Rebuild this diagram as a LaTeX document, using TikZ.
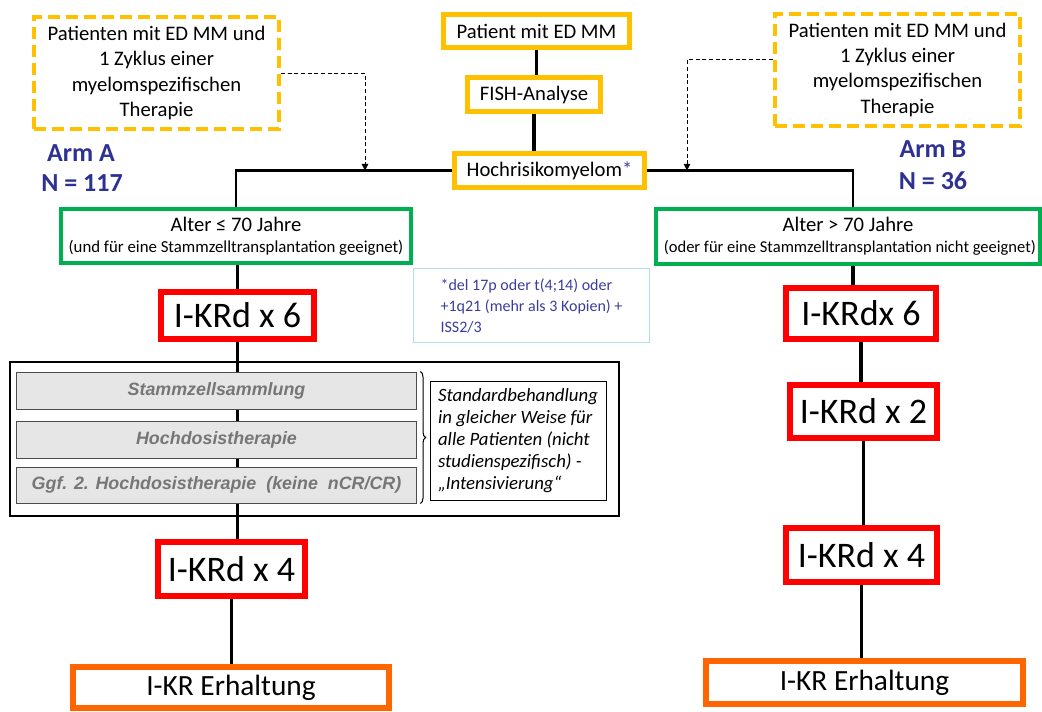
\documentclass[tikz,border=0pt]{standalone}
\usepackage{fontspec}
\setmainfont{Carlito}
\newfontfamily\arialfont{Liberation Sans}
\usetikzlibrary{arrows.meta,backgrounds,decorations.pathreplacing}

\definecolor{gelb}{HTML}{FFC000}
\definecolor{gruen}{HTML}{00B050}
\definecolor{rot}{HTML}{FF0000}
\definecolor{erhalt}{HTML}{FF6600}
\definecolor{armblau}{HTML}{2E3192}
\definecolor{notizblau}{HTML}{3C3C9E}
\definecolor{notizrand}{HTML}{B7DDE8}
\definecolor{grau}{HTML}{E6E6E6}
\definecolor{grautext}{HTML}{767676}

\newcommand{\kleinschrift}[1][12.6]{\fontsize{#1}{14}\selectfont}

\tikzset{
  box/.style={draw, inner sep=0pt, align=center},
  gelbbox/.style={box, draw=gelb, line width=3.75pt, font=\fontsize{15.5}{19}\selectfont},
  gestrichelt/.style={box, draw=gelb, line width=3pt, dash pattern=on 9pt off 4.5pt,
    minimum width=183.75pt, minimum height=84pt, font=\fontsize{15.5}{19}\selectfont},
  gruenbox/.style={box, draw=gruen, line width=3pt, font=\fontsize{15.5}{17}\selectfont},
  rotbox/.style={box, draw=rot, line width=4.5pt, font=\fontsize{27}{30}\selectfont},
  erhaltbox/.style={box, draw=erhalt, line width=4.5pt, font=\fontsize{22}{26}\selectfont},
  graubox/.style={box, draw=black!70, line width=0.75pt, fill=grau, text=grautext,
    minimum width=300pt, minimum height=27.75pt, font=\arialfont\bfseries\itshape\fontsize{13.4}{15}\selectfont},
  armlabel/.style={text=armblau, font=\bfseries\fontsize{19.5}{22}\selectfont},
  linie/.style={line width=2.6pt},
  zufluss/.style={densely dashed, line width=0.6pt, -{Triangle[width=5pt,length=5pt]}}
}

\begin{document}
\begin{tikzpicture}[x=0.75pt,y=-0.75pt]
\useasboundingbox (0,0) rectangle (1042,711);

% Einschluss
\node[gelbbox, minimum width=139.5pt, minimum height=24.75pt] (patient) at (536.5,31) {Patient mit ED MM};
\node[gelbbox, minimum width=99.75pt, minimum height=25.5pt] (fish) at (534,94.5) {FISH-Analyse};
\node[gelbbox, minimum width=142.5pt, minimum height=25.5pt] (hoch) at (549.5,170.5) {Hochrisikomyelom{\color{notizblau}*}};
\node[gestrichelt] (zyklusA) at (156.5,73) {Patienten mit ED MM und\\1 Zyklus einer\\myelomspezifischen\\Therapie};
\node[gestrichelt] (zyklusB) at (897.5,69.5) {Patienten mit ED MM und\\1 Zyklus einer\\myelomspezifischen\\Therapie};
\coordinate (einA) at (365,170.5);
\coordinate (einB) at (687,170.5);

% Arme
\node[armlabel] (armA) at (81,153) {Arm A};
\node[armlabel] (nA) at (82,183) {N = 117};
\node[armlabel] (armB) at (933,149) {Arm B};
\node[armlabel] (nB) at (933,181) {N = 36};

\node[gruenbox, minimum width=262.5pt, minimum height=40.5pt] (alterA) at (236,236)
  {Alter ≤ 70 Jahre\\[-1pt]{\kleinschrift (und für eine Stammzelltransplantation geeignet)}};
\node[gruenbox, minimum width=288pt, minimum height=41.25pt] (alterB) at (848,236.5)
  {Alter > 70 Jahre\\[-1pt]{\kleinschrift[12.4] (oder für eine Stammzelltransplantation nicht geeignet)}};

\node[box, draw=notizrand, line width=0.75pt, align=left, text=notizblau, minimum width=177pt,
  minimum height=55.5pt, font=\fontsize{12}{15.75}\selectfont] (notiz) at (531.5,305.5)
  {*del 17p oder t(4;14) oder\\+1q21 (mehr als 3 Kopien) +\\ISS2/3};

% Arm A
\node[rotbox, minimum width=114.75pt, minimum height=35.25pt] (kA6) at (237.5,315.5) {I-KRd x 6};
\node[box, draw=black, line width=1.5pt, minimum width=456.75pt, minimum height=115.5pt] (standard) at (314.5,439) {};
\node[graubox] (sammlung) at (216.5,390.5) {Stammzellsammlung};
\node[graubox] (hdt) at (216.5,439.5) {Hochdosistherapie};
\node[graubox, minimum height=27pt] (hdt2) at (216.5,485) {Ggf. 2. Hochdosistherapie \ (keine \ nCR/CR)};
\node[box, draw=black, line width=0.75pt, align=left, minimum width=132pt, minimum height=89.25pt,
  font=\itshape\fontsize{14.1}{16.5}\selectfont] (hinweis) at (518,440.5)
  {Standardbehandlung\\in gleicher Weise für\\alle Patienten (nicht\\studienspezifisch) -\\„Intensivierung“};
\node[rotbox, minimum width=110.25pt, minimum height=40.5pt] (kA4) at (231.5,569) {I-KRd x 4};
\node[erhaltbox, minimum width=237pt, minimum height=30.75pt] (erhA) at (231,687.5) {I-KR Erhaltung};

% Arm B
\node[rotbox, minimum width=112.5pt, minimum height=38.25pt] (kB6) at (861,313.5) {I-KRdx 6};
\node[rotbox, minimum width=110.25pt, minimum height=39.75pt] (kB2) at (863.5,411.5) {I-KRd x 2};
\node[rotbox, minimum width=113.25pt, minimum height=40.5pt] (kB4) at (861.5,555) {I-KRd x 4};
\node[erhaltbox, minimum width=237.75pt, minimum height=32.25pt] (erhB) at (864.5,682.5) {I-KR Erhaltung};

% Verbindungen
\draw[linie] (patient) -- (patient |- fish.north);
\draw[linie] (fish) -- (fish |- hoch.north);
\draw[line width=2.2pt] (hoch.west) -| (alterA.north);
\draw[line width=2.2pt] (hoch.east) -| ([xshift=3.75pt]alterB.north);
\draw[zufluss] (zyklusA.east) -| (einA);
\draw[zufluss] ([yshift=7.5pt]zyklusB.west) -| (einB);
\draw[linie] (alterA.south -| kA6) -- (kA6.north);
\begin{pgfonlayer}{background}
\draw[linie] (kA6.south) -- (kA6.south |- kA4.north);
\end{pgfonlayer}
\draw[linie] (kA4.south) -- (kA4.south |- erhA.north);
\draw[decorate, decoration={brace, amplitude=4pt}, line width=0.75pt]
  ([xshift=2.5pt]sammlung.north east) -- ([xshift=2.5pt]hdt2.south east);
\draw[linie] ([xshift=3.75pt]alterB.south) -- ([xshift=3.75pt]alterB.south |- kB6.north);
\draw[linie] (kB6.south) -- (kB6.south |- kB2.north);
\draw[linie] (kB2.south) -- (kB2.south |- kB4.north);
\draw[linie] (kB4.south) -- (kB4.south |- erhB.north);
\end{tikzpicture}
\end{document}
